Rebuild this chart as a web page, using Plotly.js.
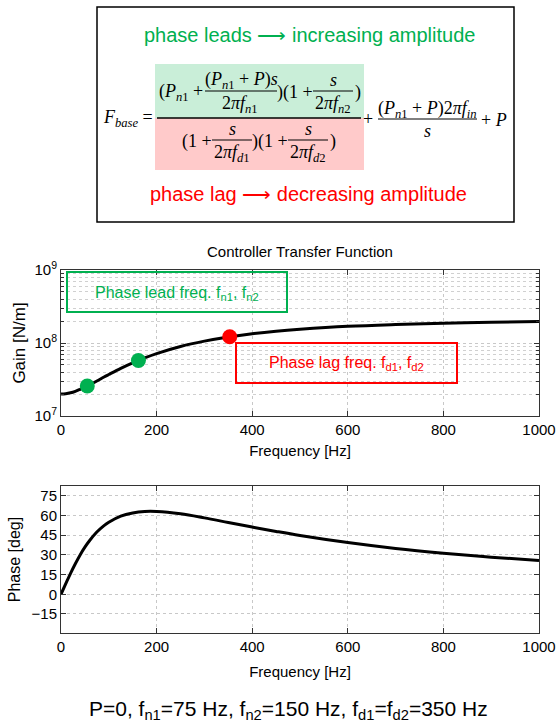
<!DOCTYPE html>
<html><head><meta charset="utf-8">
<script src="https://cdn.plot.ly/plotly-3.0.1.min.js"></script>
<style>html,body{margin:0;padding:0;background:#fff}#chart{width:558px;height:725px}</style>
</head><body><div id="chart"></div>
<script>
// ---- data ----
const freqHz   = [0, 10, 20, 30, 40, 50, 60, 75, 90, 100, 125, 150, 175, 200, 250, 300, 350, 400, 450, 500, 600, 700, 800, 900, 1000];
const gainNm   = [2.0e7, 2.02e7, 2.08e7, 2.18e7, 2.32e7, 2.48e7, 2.68e7, 3.02e7, 3.42e7, 3.70e7, 4.49e7, 5.34e7, 6.24e7, 7.16e7, 8.96e7, 1.06e8, 1.21e8, 1.34e8, 1.45e8, 1.54e8, 1.69e8, 1.79e8, 1.87e8, 1.92e8, 1.97e8];
const phaseDeg = [0, 8.1, 16.0, 23.3, 30.0, 35.9, 41.0, 47.4, 52.3, 54.9, 59.6, 62.0, 63.1, 63.1, 61.3, 58.2, 54.7, 51.2, 47.9, 44.8, 39.4, 34.9, 31.3, 28.3, 25.8];
const leadFreqHz = [55, 162];
const leadGain   = [2.58e7, 5.77e7];
const lagFreqHz  = [353];
const lagGain    = [1.22e8];
const xTickVals  = [0, 200, 400, 600, 800, 1000];
const gainTickVals = [1e7, 1e8, 1e9];
const gainTickText = ['10<sup>7</sup>', '10<sup>8</sup>', '10<sup>9</sup>'];
const phaseTickVals = [-15, 0, 15, 30, 45, 60, 75];

// ---- layout helpers (pixel -> paper) ----
const W = 558, H = 725;
const X = p => p / W;
const Y = p => 1 - p / H;
const SANS = 'Liberation Sans, Arial, sans-serif';
const SERIF = 'Liberation Serif, Times New Roman, serif';
const GREEN = '#00b050', RED = '#ff0000';

const traces = [
  {x: freqHz, y: gainNm, type: 'scatter', mode: 'lines', line: {color: '#000', width: 3, shape: 'spline'}, xaxis: 'x', yaxis: 'y', hoverinfo: 'skip'},
  {x: leadFreqHz, y: leadGain, type: 'scatter', mode: 'markers', marker: {color: GREEN, size: 15}, xaxis: 'x', yaxis: 'y'},
  {x: lagFreqHz, y: lagGain, type: 'scatter', mode: 'markers', marker: {color: RED, size: 15}, xaxis: 'x', yaxis: 'y'},
  {x: freqHz, y: phaseDeg, type: 'scatter', mode: 'lines', line: {color: '#000', width: 3, shape: 'spline'}, xaxis: 'x2', yaxis: 'y2'}
];

const axBase = {
  showline: true, linecolor: '#333', linewidth: 1, mirror: 'ticks',
  ticks: 'inside', ticklen: 5, tickcolor: '#333',
  showgrid: true, gridcolor: '#c8c8c8', griddash: 'dot', gridwidth: 1,
  zeroline: false, tickfont: {family: SANS, size: 15, color: '#000'}
};

const ann = [];
const shapes = [];
function txt(t, x, y, size, color, family, extra) {
  ann.push(Object.assign({text: t, x: X(x), y: Y(y), xref: 'paper', yref: 'paper', showarrow: false,
    xanchor: 'center', yanchor: 'middle', font: {family: family || SERIF, size: size || 17, color: color || '#000'}}, extra || {}));
}
function hline(x0, x1, y, color, w) {
  shapes.push({type: 'line', xref: 'paper', yref: 'paper', x0: X(x0), x1: X(x1), y0: Y(y), y1: Y(y), line: {color: color || '#000', width: w || 1}});
}
function rect(x0, x1, y0, y1, opts) {
  shapes.push(Object.assign({type: 'rect', xref: 'paper', yref: 'paper', x0: X(x0), x1: X(x1), y0: Y(y1), y1: Y(y0)}, opts));
}

// formula panel
rect(97, 514, 7, 222, {line: {color: '#000', width: 1.5}, fillcolor: 'rgba(0,0,0,0)'});
rect(155, 364, 64, 118, {line: {width: 0}, fillcolor: '#c9eed8', layer: 'below'});
rect(155, 364, 118, 170, {line: {width: 0}, fillcolor: '#ffcaca', layer: 'below'});
txt('phase leads ⟶ increasing amplitude', 309, 35, 20, GREEN, SANS);
txt('phase lag ⟶ decreasing amplitude', 308, 194, 20, RED, SANS);

const FS = 18;
txt('<i>F</i><sub><i>base</i></sub> =', 128, 118, FS);
hline(157, 361, 118, '#000', 1.3);
// numerator
txt('(<i>P</i><sub><i>n</i>1</sub> +', 181, 92, FS);
txt('(<i>P</i><sub><i>n</i>1</sub> + <i>P</i>)<i>s</i>', 241, 80, FS);
hline(205, 277, 91);
txt('2<i>πf</i><sub><i>n</i>1</sub>', 240, 104, FS);
txt(')(1 +', 295, 92, FS);
txt('<i>s</i>', 333, 80, FS);
hline(313, 353, 91);
txt('2<i>πf</i><sub><i>n</i>2</sub>', 333, 104, FS);
txt(')', 358, 92, FS);
// denominator
txt('(1 +', 197, 141, FS);
txt('<i>s</i>', 232, 129, FS);
hline(212, 252, 140);
txt('2<i>πf</i><sub><i>d</i>1</sub>', 232, 153, FS);
txt(')(1 +', 270, 141, FS);
txt('<i>s</i>', 308, 129, FS);
hline(288, 328, 140);
txt('2<i>πf</i><sub><i>d</i>2</sub>', 308, 153, FS);
txt(')', 333, 141, FS);
// integral & proportional terms
txt('+', 368, 119, FS);
txt('(<i>P</i><sub><i>n</i>1</sub> + <i>P</i>)2<i>πf</i><sub><i>in</i></sub>', 427, 109, FS);
hline(378, 477, 119);
txt('<i>s</i>', 427, 131, FS);
txt('+ <i>P</i>', 494, 120, FS);

// chart annotation boxes
rect(67, 287, 272, 312, {line: {color: GREEN, width: 2}, fillcolor: 'rgba(0,0,0,0)'});
txt('Phase lead freq. f<sub>n1</sub>, f<sub>n2</sub>', 177, 293, 16, GREEN, SANS);
rect(236, 457, 343, 383, {line: {color: RED, width: 2}, fillcolor: 'rgba(0,0,0,0)'});
txt('Phase lag freq. f<sub>d1</sub>, f<sub>d2</sub>', 346, 364, 16, RED, SANS);

// caption
txt('P=0, f<sub>n1</sub>=75 Hz, f<sub>n2</sub>=150 Hz, f<sub>d1</sub>=f<sub>d2</sub>=350 Hz', 289, 710, 21, '#000', SANS);

const layout = {
  width: W, height: H,
  margin: {l: 0, r: 0, t: 0, b: 0},
  paper_bgcolor: '#fff', plot_bgcolor: '#fff',
  showlegend: false,
  title: {text: 'Controller Transfer Function', x: X(300), y: Y(252), xref: 'paper', yref: 'container', xanchor: 'center', yanchor: 'middle', font: {family: SANS, size: 15, color: '#000'}},
  xaxis: Object.assign({}, axBase, {domain: [X(61), X(539)], range: [0, 1000], tickvals: xTickVals, anchor: 'y',
    title: {text: 'Frequency [Hz]', standoff: 8, font: {family: SANS, size: 15, color: '#000'}}}),
  yaxis: Object.assign({}, axBase, {domain: [Y(416), Y(270)], type: 'log', range: [7, 9], tickvals: gainTickVals, ticktext: gainTickText, anchor: 'x',
    minor: {dtick: 'D1', ticks: 'inside', ticklen: 3, tickcolor: '#333', showgrid: true, gridcolor: '#d0d0d0', griddash: 'dot', gridwidth: 1},
    title: {text: 'Gain [N/m]', standoff: 4, font: {family: SANS, size: 17, color: '#000'}}}),
  xaxis2: Object.assign({}, axBase, {domain: [X(61), X(539)], range: [0, 1000], tickvals: xTickVals, anchor: 'y2',
    title: {text: 'Frequency [Hz]', standoff: 12, font: {family: SANS, size: 15, color: '#000'}}}),
  yaxis2: Object.assign({}, axBase, {domain: [Y(633), Y(486)], range: [-29.5, 82.5], tickvals: phaseTickVals, anchor: 'x2',
    title: {text: 'Phase [deg]', standoff: 6, font: {family: SANS, size: 16, color: '#000'}}}),
  annotations: ann,
  shapes: shapes
};

Plotly.newPlot('chart', traces, layout, {staticPlot: true, displayModeBar: false});
</script>
</body></html>
